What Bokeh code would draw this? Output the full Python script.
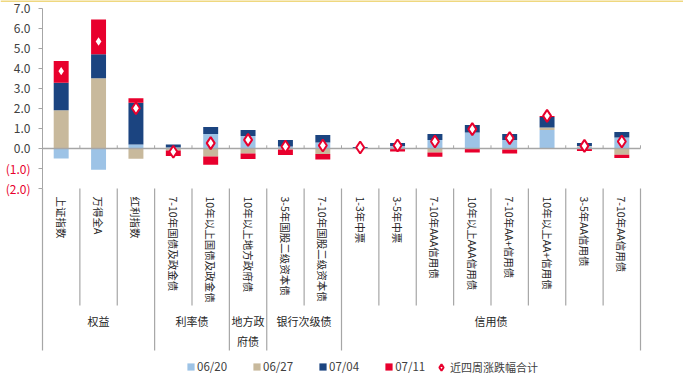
import numpy as np
from bokeh.plotting import figure
from bokeh.models import (ColumnDataSource, Range1d, LinearAxis, FixedTicker, Legend,
                          LegendItem, LabelSet, NumeralTickFormatter, Span)
from bokeh.embed import file_html
from bokeh.resources import INLINE
from bokeh.core.properties import value

# ---------------- data ----------------
categories = ["上证指数", "万得全A", "红利指数", "7-10年国债及政金债", "10年以上国债及政金债",
              "10年以上地方政府债", "3-5年国股二级资本债", "7-10年国股二级资本债", "1-3年中票",
              "3-5年中票", "7-10年AAA信用债", "10年以上AAA信用债", "7-10年AA+信用债",
              "10年以上AA+信用债", "3-5年AA信用债", "7-10年AA信用债"]
groups = ["权益", "利率债", "地方政\n府债", "银行次级债", "信用债"]
group_sizes = [3, 2, 1, 2, 8]
series_names = ["06/20", "06/27", "07/04", "07/11"]
w0620 = [-0.50, -1.06, 0.20, 0.05, 0.72, 0.63, 0.10, 0.30, 0.02, 0.12, 0.42, 0.80, 0.43, 0.92, 0.10, 0.55]
w0627 = [1.91, 3.51, -0.51, -0.10, -0.40, -0.25, -0.05, -0.28, 0.00, -0.03, -0.20, -0.02, -0.05, 0.13, 0.03, -0.31]
w0704 = [1.38, 1.20, 2.09, 0.15, 0.36, 0.30, 0.32, 0.37, 0.05, 0.15, 0.30, 0.37, 0.29, 0.53, 0.14, 0.27]
w0711 = [1.08, 1.74, 0.22, -0.28, -0.41, -0.28, -0.27, -0.27, -0.02, -0.12, -0.21, -0.18, -0.20, 0.05, -0.12, -0.17]
total = [3.87, 5.35, 2.01, -0.16, 0.27, 0.43, 0.10, 0.15, 0.05, 0.15, 0.35, 0.97, 0.52, 1.63, 0.13, 0.35]
total_name = "近四周涨跌幅合计"
yticks = [-2, -1, 0, 1, 2, 3, 4, 5, 6, 7]
neg_ticks = [-2, -1]
neg_tick_labels = ["(2.0)", "(1.0)"]

# ---------------- style ----------------
colors = ["#9DC3E6", "#C8B99C", "#1B4480", "#E8002D"]
red = "#E8002D"
gray_line = "#A6A6A6"
txt = "#262626"
cjk = value("Noto Sans CJK SC")

n = len(categories)
xc = np.arange(n) + 0.5

p = figure(width=683, height=376, x_range=Range1d(-1.1237, 17.1505), y_range=Range1d(-11.4, 7.4),
           output_backend="svg", toolbar_location=None, x_axis_type=None, y_axis_type=None,
           min_border_left=0, min_border_right=0, min_border_top=0, min_border_bottom=0)
p.outline_line_color = None
p.background_fill_color = "white"
p.border_fill_color = "white"

# thin yellow rule at the top
p.add_layout(Span(location=7.37, dimension="width", line_color="#EACB55", line_width=1.5))

# stacked bars (positives up, negatives down)
pos = np.zeros(n)
neg = np.zeros(n)
bar_renderers = []
for name, vals, col in zip(series_names, [w0620, w0627, w0704, w0711], colors):
    v = np.array(vals, dtype=float)
    bottom = np.where(v >= 0, pos, neg)
    top = bottom + v
    pos = np.where(v >= 0, top, pos)
    neg = np.where(v < 0, top, neg)
    src = ColumnDataSource(dict(x=xc, bottom=bottom, top=top))
    r = p.vbar(x="x", width=0.4, bottom="bottom", top="top", source=src,
               fill_color=col, line_color=None)
    bar_renderers.append(r)

# zero line + category ticks
p.segment(x0=[0], y0=[0], x1=[n], y1=[0], line_color=gray_line, line_width=1.5)
bnds = np.arange(1, n + 1)
p.segment(x0=bnds, y0=np.zeros(n), x1=bnds, y1=np.full(n, 0.16), line_color=gray_line, line_width=1)

# total markers
msrc = ColumnDataSource(dict(x=xc, y=total))
mr = p.scatter(x="x", y="y", source=msrc, marker="diamond", size=12, fill_color="white",
               line_color=red, line_width=2)

# y axis, fixed at x = 0 (left edge of the category area)
yaxis = LinearAxis(ticker=FixedTicker(ticks=yticks), bounds=(-2, 7), fixed_location=0,
                   formatter=NumeralTickFormatter(format="0.0"),
                   major_label_overrides={-1: "", -2: ""})
yaxis.axis_line_color = gray_line
yaxis.major_tick_line_color = gray_line
yaxis.major_tick_out = 4
yaxis.major_tick_in = 0
yaxis.minor_tick_line_color = None
yaxis.major_label_standoff = 8
yaxis.major_label_text_font = "Noto Sans CJK SC"
yaxis.major_label_text_font_size = "12px"
yaxis.major_label_text_color = "#404040"
p.add_layout(yaxis, "left")

nsrc = ColumnDataSource(dict(x=[-0.321] * len(neg_ticks), y=neg_ticks, text=neg_tick_labels))
p.add_layout(LabelSet(x="x", y="y", text="text", source=nsrc, text_align="right",
                      text_baseline="middle", text_color=red, text_font=cjk,
                      text_font_size="12px"))

# category labels (vertical)
p.text(x=xc, y=np.full(n, -2.4), text=categories, angle=-np.pi / 2, text_align="left",
       text_baseline="middle", text_font=cjk, text_font_size="10.5px", text_color=txt)

# separators
edges = np.concatenate([[0], np.cumsum(group_sizes)])
inner = [b for b in range(1, n) if b not in edges]
p.segment(x0=inner, y0=[-2] * len(inner), x1=inner, y1=[-7.85] * len(inner),
          line_color=gray_line, line_width=1.2)
p.segment(x0=edges, y0=[-2] * len(edges), x1=edges, y1=[-10.1] * len(edges),
          line_color=gray_line, line_width=1.2)

# group labels
gcent = (edges[:-1] + edges[1:]) / 2
p.text(x=gcent, y=[-8.23] * len(groups), text=groups, text_align="center", text_baseline="top",
       text_font=cjk, text_font_size="11px", text_color=txt, text_line_height=1.22)

# legends
leg1 = Legend(items=[LegendItem(label=s, renderers=[r]) for s, r in zip(series_names, bar_renderers)],
              orientation="horizontal", location=(186, 2), glyph_width=9, glyph_height=9,
              label_height=12, label_standoff=2, spacing=25, padding=0, margin=0,
              border_line_color=None, background_fill_alpha=0,
              label_text_font="Noto Sans CJK SC", label_text_font_size="11.5px",
              label_text_color="#404040")
leg2 = Legend(items=[LegendItem(label=total_name, renderers=[mr])],
              orientation="horizontal", location=(433, 1), glyph_width=16, glyph_height=16,
              label_height=12, label_standoff=1, spacing=0, padding=0, margin=0,
              border_line_color=None, background_fill_alpha=0,
              label_text_font="Noto Sans CJK SC", label_text_font_size="11px",
              label_text_color="#404040")
p.add_layout(leg1)
p.add_layout(leg2)

open("out.html", "w").write(file_html(p, INLINE))
